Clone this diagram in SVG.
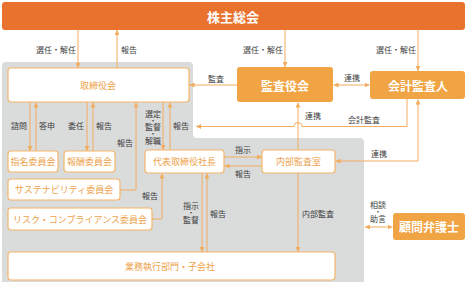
<svg xmlns="http://www.w3.org/2000/svg" width="467" height="284" viewBox="0 0 467 284">
<defs>
<marker id="ah" viewBox="0 0 6 6" refX="6" refY="3" markerWidth="5" markerHeight="5" markerUnits="userSpaceOnUse" orient="auto-start-reverse">
<path d="M0,0 L6,3 L0,6 Z" fill="#F2AC5E"/>
</marker>
</defs>
<style>
.bg{fill:#DADBDB}
.top{fill:#E8722E}
.ob{fill:#F0A444}
.wb{fill:#FFFFFF;stroke:#F3B66A;stroke-width:1.2}
.tw{font-family:"Noto Sans CJK JP","Noto Sans",sans-serif;fill:#FFFFFF;font-weight:bold;text-anchor:middle;dominant-baseline:central}
.to{font-family:"Noto Sans CJK JP","Noto Sans",sans-serif;fill:#EE9F4A;font-size:9px;text-anchor:middle;dominant-baseline:central}
.lb{font-family:"Noto Sans CJK JP","Noto Sans",sans-serif;fill:#3C3C3C;font-size:8px;text-anchor:middle;dominant-baseline:central}
.dt{font-size:7px}
.ln{fill:none;stroke:#F2AC5E;stroke-width:1}
.a{marker-end:url(#ah)}
.aa{marker-start:url(#ah);marker-end:url(#ah)}
</style>
<path class="bg" d="M2,66 Q2,62 6,62 L189,62 Q193,62 193,66 L193,134 Q193,138 197,138 L360,138 Q364,138 364,142 L364,282 L2,282 Z"/>

<g id="connectors">
<line class="ln a" x1="78" y1="30" x2="78" y2="68"/>
<line class="ln a" x1="117" y1="68" x2="117" y2="30"/>
<line class="ln a" x1="285" y1="30" x2="285" y2="67"/>
<line class="ln a" x1="418" y1="30" x2="418" y2="71"/>
<line class="ln a" x1="237" y1="85" x2="189.5" y2="85"/>
<line class="ln aa" x1="333.5" y1="85" x2="369.5" y2="85"/>
<line class="ln a" x1="298" y1="150" x2="298" y2="102.5"/>
<path class="ln a" d="M407,99 L407,126.5 L302,126.5 A4,4 0 0 0 294,126.5 L196,126.5"/>
<path class="ln aa" d="M418,99.5 L418,161 L335.5,161"/>
<line class="ln a" x1="30" y1="102" x2="30" y2="151"/>
<line class="ln a" x1="36" y1="151" x2="36" y2="102.5"/>
<line class="ln a" x1="87" y1="102" x2="87" y2="151"/>
<line class="ln a" x1="93" y1="151" x2="93" y2="102.5"/>
<path class="ln a" d="M120,190 L136,190 L136,102.5"/>
<line class="ln a" x1="163" y1="102" x2="163" y2="150"/>
<line class="ln a" x1="170" y1="150" x2="170" y2="102.5"/>
<line class="ln a" x1="224" y1="157" x2="262" y2="157"/>
<line class="ln a" x1="262" y1="166" x2="224.5" y2="166"/>
<path class="ln a" d="M152,219 L162,219 L162,173.5"/>
<line class="ln a" x1="202" y1="173" x2="202" y2="252"/>
<line class="ln a" x1="207" y1="252" x2="207" y2="173.5"/>
<line class="ln a" x1="298" y1="173" x2="298" y2="252"/>
<line class="ln aa" x1="365" y1="227" x2="392.5" y2="227"/>
</g>

<g id="labels">
<text class="lb" x="56" y="49">選任・解任</text>
<text class="lb" x="129" y="49">報告</text>
<text class="lb" x="263" y="49">選任・解任</text>
<text class="lb" x="396" y="49">選任・解任</text>
<text class="lb" x="216" y="78">監査</text>
<text class="lb" x="352" y="77">連携</text>
<text class="lb" x="313" y="115">連携</text>
<text class="lb" x="364" y="119">会計監査</text>
<text class="lb" x="379" y="153">連携</text>
<text class="lb" x="19" y="125">諮問</text>
<text class="lb" x="47" y="125">答申</text>
<text class="lb" x="76" y="125">委任</text>
<text class="lb" x="104" y="125">報告</text>
<text class="lb" x="125" y="142">報告</text>
<text class="lb"><tspan x="153" y="112.5">選定</tspan><tspan class="dt" x="153" y="119.5">・</tspan><tspan x="153" y="126">監督</tspan><tspan class="dt" x="153" y="132.5">・</tspan><tspan x="153" y="139.5">解職</tspan></text>
<text class="lb" x="181" y="125">報告</text>
<text class="lb" x="243" y="149">指示</text>
<text class="lb" x="243" y="173">報告</text>
<text class="lb" x="150" y="195">報告</text>
<text class="lb"><tspan x="191" y="205">指示</tspan><tspan class="dt" x="191" y="212">・</tspan><tspan x="191" y="219">監督</tspan></text>
<text class="lb" x="218" y="213">報告</text>
<text class="lb" x="318" y="213">内部監査</text>
<text class="lb"><tspan x="378" y="204">相談</tspan><tspan class="dt" x="378" y="211">・</tspan><tspan x="378" y="218">助言</tspan></text>
</g>

<g id="n-shareholders">
<rect class="top" x="2" y="2" width="463" height="28" rx="3"/>
<text class="tw" x="233" y="16" font-size="13">株主総会</text>
</g>
<g id="n-board">
<rect class="wb" x="8" y="68" width="181" height="34" rx="3"/>
<text class="to" x="98" y="85" font-size="9.5">取締役会</text>
</g>
<g id="n-auditboard">
<rect class="ob" x="237" y="67" width="96" height="35" rx="3"/>
<text class="tw" x="285" y="85" font-size="12">監査役会</text>
</g>
<g id="n-accountant">
<rect class="ob" x="370" y="71" width="95" height="28" rx="3"/>
<text class="tw" x="418" y="85" font-size="12">会計監査人</text>
</g>
<g id="n-nomination">
<rect class="wb" x="8" y="151" width="50" height="21" rx="3"/>
<text class="to" x="33" y="161.5">指名委員会</text>
</g>
<g id="n-compensation">
<rect class="wb" x="64" y="151" width="51" height="21" rx="3"/>
<text class="to" x="89.5" y="161.5">報酬委員会</text>
</g>
<g id="n-sustainability">
<rect class="wb" x="8" y="179" width="112" height="21" rx="3"/>
<text class="to" x="64" y="189.5">サステナビリティ委員会</text>
</g>
<g id="n-risk">
<rect class="wb" x="8" y="208" width="144" height="22" rx="3"/>
<text class="to" x="80" y="219">リスク・コンプライアンス委員会</text>
</g>
<g id="n-president">
<rect class="wb" x="145" y="150" width="79" height="23" rx="3"/>
<text class="to" x="184.5" y="161.5">代表取締役社長</text>
</g>
<g id="n-internalaudit">
<rect class="wb" x="262" y="150" width="73" height="23" rx="3"/>
<text class="to" x="298.5" y="161.5">内部監査室</text>
</g>
<g id="n-business">
<rect class="wb" x="8" y="252" width="327" height="28" rx="3"/>
<text class="to" x="170" y="266">業務執行部門・子会社</text>
</g>
<g id="n-lawyer">
<rect class="ob" x="393" y="213" width="72" height="27" rx="3"/>
<text class="tw" x="429" y="226.5" font-size="12">顧問弁護士</text>
</g>
</svg>
